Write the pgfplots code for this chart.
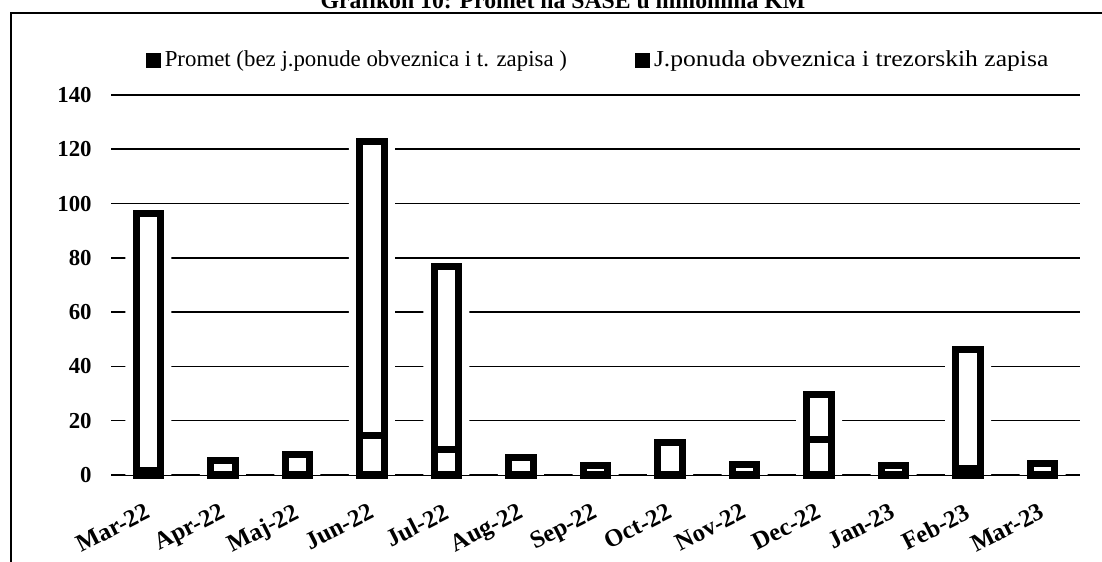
\documentclass[border=0pt]{standalone}
\usepackage{pgfplots}
\pgfplotsset{compat=1.18}
\usepackage{pgfplotstable}
\usepackage{graphicx}
\usepackage{fontspec}
\setmainfont{Liberation Serif}

\pgfplotstableread{
x P J T
0 1.5 94.7 96.2
1 5.4 0 5.4
2 7.7 0 7.7
3 14.5 108.2 122.7
4 9.5 67.4 76.9
5 6.5 0 6.5
6 3.5 0 3.5
7 11.9 0 11.9
8 4.0 0 4.0
9 13.0 16.6 29.6
10 3.5 0 3.5
11 2.5 43.8 46.3
12 4.3 0 4.3
}\datatable

\pgfplotsset{
  common/.style={
    at={(2.22cm,1.74cm)}, anchor=south west,
    scale only axis, width=19.38cm, height=7.6cm,
    xmin=-0.5, xmax=12.5, ymin=0, ymax=140,
    ytick={0,20,...,140},
    axis line style={draw=none},
    major tick length=0pt,
    clip=false,
  }
}

\begin{document}
\begin{tikzpicture}
\useasboundingbox (0,0) rectangle (22.04,11.24);
\draw[line width=1.2pt] (0.22,-0.5) -- (0.22,10.98) -- (23,10.98);
\node[anchor=base, font=\fontsize{13.5}{15}\selectfont\bfseries] at (11.26,11.07) {Grafikon 10: Promet na SASE u milionima KM};

% halo + grid axis
\begin{axis}[common,
  ymajorgrids, grid style={black, line width=0.9pt},
  xtick=\empty, yticklabels={},
  ybar, bar width=0.92cm]
\addplot[fill=white, draw=none] table[x=x, y=T] {\datatable};
\end{axis}

% main axis
\begin{axis}[common,
  ybar stacked, bar width=0.49cm,
  xtick={0,...,12},
  xticklabels={Mar-22,Apr-22,Maj-22,Jun-22,Jul-22,Aug-22,Sep-22,Oct-22,Nov-22,Dec-22,Jan-23,Feb-23,Mar-23},
  /pgf/number format/assume math mode=true,
  yticklabel style={font=\fontsize{13}{15}\selectfont\bfseries, inner sep=0pt, xshift=-0.38cm},
  xticklabel style={font=\fontsize{14}{16}\selectfont\bfseries, rotate=27, anchor=north east, inner sep=0pt, yshift=-0.45cm, xshift=-0.32cm},
  legend style={at={(0.036,1.092)}, anchor=west, draw=none, fill=none, inner sep=0pt,
    font=\fontsize{13}{15}\selectfont, legend columns=2,
    /tikz/every even column/.append style={column sep=1.3cm}},
  ]
\addplot[fill=white, draw=black, line width=4pt,
  legend image code/.code={\fill[black] (0cm,-0.08cm) rectangle (0.16cm,0.08cm);}]
  table[x=x, y=P] {\datatable};
\addplot[fill=white, draw=black, line width=4pt,
  legend image code/.code={\fill[black] (0cm,-0.08cm) rectangle (0.16cm,0.08cm);}]
  table[x=x, y=J] {\datatable};
\legend{Promet (bez j.ponude obveznica i t. zapisa ),\scalebox{1.12}[1]{J.ponuda obveznica i trezorskih zapisa}}
\end{axis}
\end{tikzpicture}
\end{document}
